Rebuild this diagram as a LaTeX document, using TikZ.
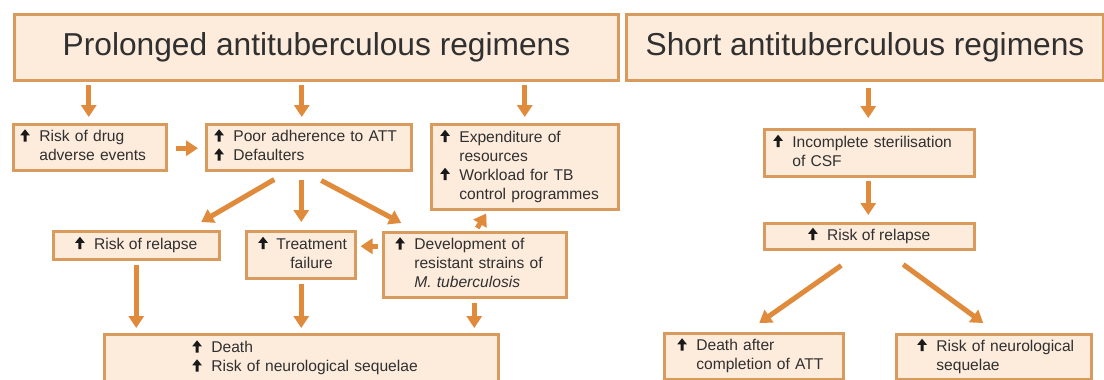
\documentclass[tikz,border=0pt]{standalone}
\usepackage{fontspec}
\setmainfont{Liberation Sans}
\usetikzlibrary{arrows.meta,calc}
\definecolor{boxfill}{HTML}{FDEBDC}
\definecolor{boxline}{HTML}{D99A5E}
\definecolor{arrcol}{HTML}{E08A3C}
\definecolor{txt}{HTML}{303030}
\newcommand{\uparw}{\tikz[baseline=0pt]{\fill[black!90] (-1.5pt,0pt) -- (1.5pt,0pt) -- (1.5pt,6.3pt) -- (4.8pt,6.3pt) -- (0pt,12.3pt) -- (-4.8pt,6.3pt) -- (-1.5pt,6.3pt) -- cycle;}}
\newcommand{\lst}[1]{\begin{tabular}{@{}l@{\hspace{9.5pt}}l@{}}#1\end{tabular}}
\begin{document}
\begin{tikzpicture}[x=1pt,y=-1pt,
  box/.style={draw=boxline, fill=boxfill, line width=2.5pt, inner ysep=0pt,
    anchor=north west, text=txt, font=\fontsize{15.6}{19}\selectfont},
  lbox/.style={box, inner xsep=#1, align=left},
  title/.style={box, line width=3pt, inner sep=0pt, font=\fontsize{31.7}{36}\selectfont},
  arr/.style={draw=arrcol, line width=5pt, -{Triangle[width=15pt,length=12pt]}}]
\useasboundingbox (0,0) rectangle (1104,380);
\fill[white] (0,0) rectangle (1104,380);

% titles
\node[title, minimum width=604pt, minimum height=66pt] (tl) at (13,13) {Prolonged antituberculous regimens};
\node[title, minimum width=477pt, minimum height=66pt] (tr) at (625,13) {Short antituberculous regimens};

% left branch
\node[lbox=7pt, minimum width=153pt, minimum height=46pt, text width=139pt] (drug) at (12,123)
  {\lst{\uparw & Risk of drug\\ & adverse events}};
\node[lbox=8pt, minimum width=205pt, minimum height=46pt, text width=189pt] (poor) at (205,123)
  {\lst{\uparw & Poor adherence to ATT\\ \uparw & Defaulters}};
\node[lbox=9pt, minimum width=187pt, minimum height=85pt, text width=169pt] (expend) at (430,123)
  {\lst{\uparw & Expenditure of\\ & resources\\ \uparw & Workload for TB\\ & control programmes}};
\node[box, minimum width=166pt, minimum height=28pt] (relL) at (52,230)
  {\lst{\uparw & Risk of relapse}};
\node[lbox=12pt, minimum width=109pt, minimum height=47pt, text width=85pt] (treat) at (245,230)
  {\begin{tabular}{@{}l@{\hspace{8.5pt}}c@{}}\uparw & Treatment\\ & failure\end{tabular}};
\node[lbox=12pt, minimum width=183pt, minimum height=65pt, text width=159pt] (dev) at (382,231)
  {\lst{\uparw & Development of\\ & resistant strains of\\ & \textit{M. tuberculosis}}};
\node[lbox=88pt, minimum width=394pt, minimum height=48pt, text width=218pt] (death) at (103,333)
  {\lst{\uparw & Death\\ \uparw & Risk of neurological sequelae}};

% right branch
\node[lbox=9pt, minimum width=210pt, minimum height=47pt, text width=192pt] (inc) at (763,128)
  {\lst{\uparw & Incomplete sterilisation\\ & of CSF}};
\node[box, minimum width=210pt, minimum height=26pt] (relR) at (763,222)
  {\lst{\uparw & Risk of relapse}};
\node[lbox=13pt, minimum width=179pt, minimum height=46pt, text width=153pt] (dafter) at (663,332)
  {\lst{\uparw & Death after\\ & completion of ATT}};
\node[lbox=21pt, minimum width=195pt, minimum height=45pt, text width=153pt] (neuro) at (895,333)
  {\lst{\uparw & Risk of neurological\\ & sequelae}};

% arrows left
\draw[arr] ($(tl.south -| drug.north)+(-1,3)$) -- ($(drug.north)+(-1,-6)$);
\draw[arr] ($(tl.south -| poor.north)+(-7,3)$) -- ($(poor.north)+(-7,-6)$);
\draw[arr] ($(tl.south -| expend.north)+(0,3)$) -- ($(expend.north)+(0,-6)$);
\draw[arr] ($(drug.east)+(8,1)$) -- ($(poor.west)+(-7,1)$);
\draw[arr] ($(poor.south)+(-34.5,8)$) -- ($(relL.north)+(65,-8)$);
\draw[arr] ($(poor.south -| treat.north)+(0.5,8)$) -- ($(treat.north)+(0.5,-8)$);
\draw[arr] ($(poor.south)+(12.5,9)$) -- ($(dev.north)+(-73.5,-8)$);
\draw[arr] ($(dev.north)+(2.5,-3)$) -- ($(expend.south)+(-38.5,3)$);
\draw[arr] ($(dev.west)+(-4,-18.5)$) -- ($(treat.east)+(4,-8.5)$);
\draw[arr] ($(relL.south)+(0,4)$) -- ($(death.north -| relL.south)+(0,-5)$);
\draw[arr] ($(treat.south)+(0.5,4)$) -- ($(death.north -| treat.south)+(0.5,-5)$);
\draw[arr] ($(dev.south)+(-0.5,4)$) -- ($(death.north -| dev.south)+(-0.5,-5)$);

% arrows right
\draw[arr] ($(tr.south -| inc.north)+(-1,6)$) -- ($(inc.north)+(-1,-10)$);
\draw[arr] ($(inc.south)+(-1,3)$) -- ($(relR.north)+(-1,-7)$);
\draw[arr] ($(relR.south)+(-28,15)$) -- ($(dafter.north)+(5.5,-9)$);
\draw[arr] ($(relR.south)+(34,14)$) -- ($(neuro.north)+(-10.5,-10)$);
\end{tikzpicture}
\end{document}
